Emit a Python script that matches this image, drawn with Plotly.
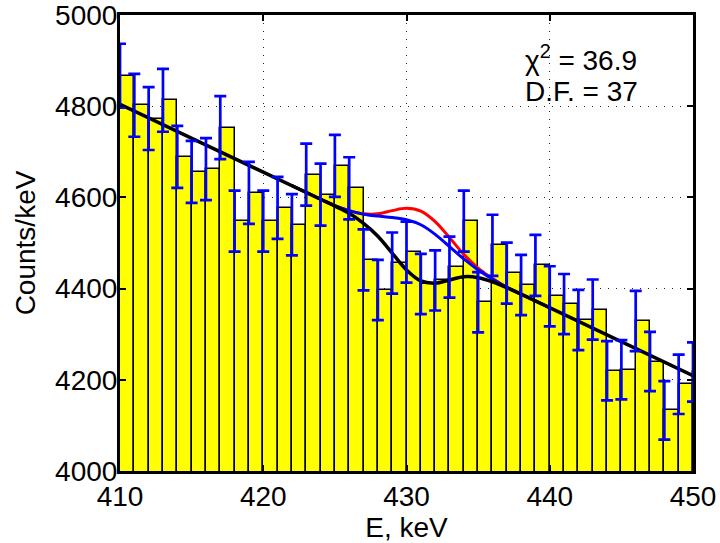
import plotly.graph_objects as go

# ---- data ----
energy = list(range(410, 451))
counts = [4867, 4802, 4773, 4813, 4689, 4656, 4662, 4753, 4548, 4610,
          4548, 4577, 4540, 4650, 4606, 4669, 4620, 4463, 4397, 4456,
          4480, 4410, 4418, 4447, 4548, 4370, 4495, 4434, 4408, 4451,
          4383, 4366, 4331, 4354, 4220, 4222, 4329, 4240, 4133, 4190, 4217]
errors = [70, 69, 69, 69, 68, 68, 68, 69, 67, 68,
          67, 68, 67, 68, 68, 68, 68, 67, 66, 67,
          67, 66, 66, 67, 67, 66, 67, 67, 66, 67,
          66, 66, 66, 66, 65, 65, 66, 65, 64, 65, 65]

# fitted curves
black_x = [410, 424, 425, 426, 427, 428, 429, 430, 431, 432, 433, 434, 435, 436, 437, 438, 450]
black_y = [4804, 4596, 4581, 4565, 4543, 4515, 4478, 4441, 4417, 4412, 4419, 4426, 4424, 4415, 4402, 4388, 4209]

red_x = [422, 423, 424, 425, 426, 427, 428, 429, 430, 431, 432, 433, 434, 435, 436, 437, 438, 440]
red_y = [4626, 4611, 4596, 4582, 4571, 4564, 4564, 4571, 4576, 4570, 4547, 4512, 4475, 4445, 4422, 4403, 4388, 4358]

blue_x = [422, 423, 424, 425, 426, 427, 428, 429, 430, 431, 432, 433, 434, 435, 436, 437, 438, 440]
blue_y = [4626, 4611, 4596, 4582, 4571, 4563, 4559, 4556, 4551, 4540, 4519, 4492, 4465, 4441, 4421, 4403, 4388, 4358]

x_ticks = [410, 420, 430, 440, 450]
y_ticks = [4000, 4200, 4400, 4600, 4800, 5000]

chi2_text = "χ<sup>2</sup> = 36.9"
df_text = "D.F. = 37"

FONT = "Liberation Sans, Arial, sans-serif"
FS = 28

fig = go.Figure()

fig.add_trace(go.Bar(
    x=energy, y=counts, width=1, offset=0,
    marker=dict(color="#FFFF00", line=dict(color="black", width=1.5)),
    showlegend=False, hoverinfo="skip"))

fig.add_trace(go.Scatter(x=red_x, y=red_y, mode="lines",
                         line=dict(color="#FF0000", width=3, shape="spline"),
                         showlegend=False))
fig.add_trace(go.Scatter(x=blue_x, y=blue_y, mode="lines",
                         line=dict(color="#0000FF", width=3, shape="spline"),
                         showlegend=False))
fig.add_trace(go.Scatter(x=black_x, y=black_y, mode="lines",
                         line=dict(color="black", width=3.5, shape="spline"),
                         showlegend=False))

fig.add_trace(go.Scatter(
    x=energy, y=counts, mode="markers",
    marker=dict(size=0.1, color="rgba(0,0,0,0)"),
    error_y=dict(type="data", array=errors, visible=True,
                 color="#0000FF", thickness=2.7, width=6),
    showlegend=False))

fig.add_annotation(x=438.1, y=4906, xref="x", yref="y", text=chi2_text,
                   showarrow=False, xanchor="left", yanchor="middle",
                   font=dict(family=FONT, size=FS, color="black"))
fig.add_annotation(x=438.1, y=4833, xref="x", yref="y", text=df_text,
                   showarrow=False, xanchor="left", yanchor="middle",
                   font=dict(family=FONT, size=FS, color="black"))

axis_common = dict(
    showline=True, linecolor="black", linewidth=3, mirror="allticks",
    ticks="inside", ticklen=6, tickwidth=1.5, tickcolor="black",
    showgrid=True, gridcolor="#222222", gridwidth=1, griddash="1px,7px",
    zeroline=False, automargin=False, ticklabeloverflow="allow",
    tickfont=dict(family=FONT, size=FS, color="black"),
)

fig.update_xaxes(range=[410, 450], tickvals=x_ticks,
                 ticktext=[str(v) for v in x_ticks],
                 ticklabelstandoff=-2,
                 title=dict(text="E, keV", font=dict(family=FONT, size=FS, color="black"),
                            standoff=16),
                 **axis_common)
fig.update_yaxes(range=[4000, 5000], tickvals=y_ticks,
                 ticktext=[str(v) for v in y_ticks],
                 ticklabelstandoff=-6,
                 title=dict(text="Counts/keV", font=dict(family=FONT, size=FS, color="black"),
                            standoff=12),
                 **axis_common)

fig.update_layout(
    width=720, height=543,
    margin=dict(l=120, r=27, t=15, b=72, autoexpand=False),
    paper_bgcolor="white", plot_bgcolor="white",
    bargap=0, showlegend=False,
    font=dict(family=FONT, size=FS, color="black"),
)

# remove the browser's default 8 px body margin so the figure sits at (0, 0)
fig.write_html("out.html", config={"displayModeBar": False},
               post_script="document.body.style.margin='0';")
